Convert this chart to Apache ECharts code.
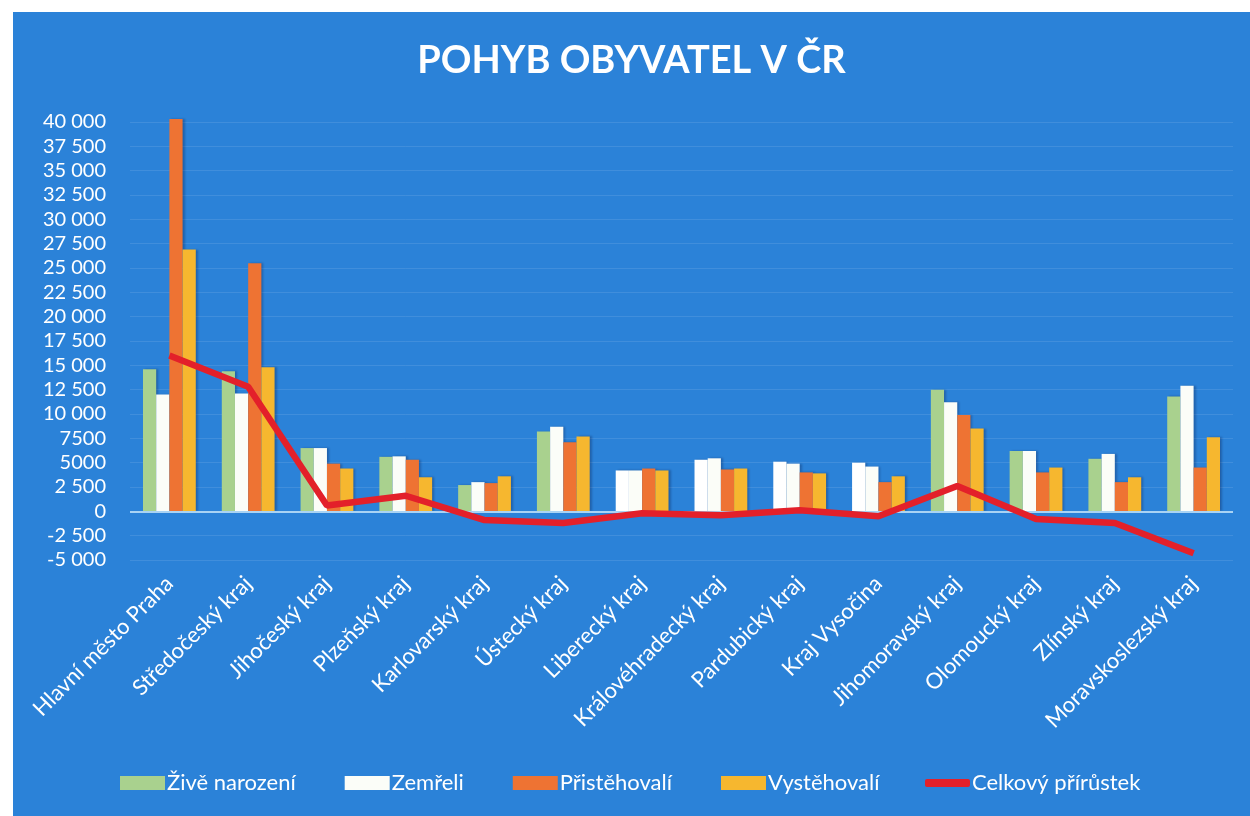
<!DOCTYPE html>
<html>
<head>
<meta charset="utf-8">
<script src="https://cdn.jsdelivr.net/npm/echarts@6/dist/echarts.min.js"></script>
<style>
  html, body { margin: 0; padding: 0; background: #fff; }
  #wrap { position: relative; width: 1250px; height: 816px; background: #fff; }
  #chart { position: absolute; left: 13px; top: 12px; width: 1237px; height: 804px; }
</style>
</head>
<body>
<div id="wrap"><div id="chart"></div></div>
<script>
let kraje = ['Hlavní město Praha', 'Středočeský kraj', 'Jihočeský kraj', 'Plzeňský kraj',
  'Karlovarský kraj', 'Ústecký kraj', 'Liberecký kraj', 'Královéhradecký kraj',
  'Pardubický kraj', 'Kraj Vysočina', 'Jihomoravský kraj', 'Olomoucký kraj',
  'Zlínský kraj', 'Moravskoslezský kraj']

let ziveNarozeni = [14600, 14400, 6500, 5600, 2700, 8200, 4200, 5300, 5100, 5000, 12500, 6200, 5400, 11800]
let zemreli = [12000, 12100, 6500, 5650, 3000, 8700, 4200, 5450, 4900, 4600, 11200, 6200, 5900, 12900]
let pristehovali = [40300, 25500, 4900, 5300, 2900, 7100, 4400, 4300, 4000, 3000, 9900, 4000, 3000, 4500]
let vystehovali = [26900, 14800, 4400, 3500, 3600, 7700, 4200, 4400, 3900, 3600, 8500, 4500, 3500, 7600]
let prirustek = [16000, 12800, 600, 1600, -900, -1200, -200, -400, 100, -500, 2600, -800, -1200, -4300]

let yTicks = [-5000, -2500, 0, 2500, 5000, 7500, 10000, 12500, 15000, 17500, 20000,
  22500, 25000, 27500, 30000, 32500, 35000, 37500, 40000]
let yTickLabels = ['-5 000', '-2 500', '0', '2 500', '5000', '7500', '10 000', '12 500', '15 000',
  '17 500', '20 000', '22 500', '25 000', '27 500', '30 000', '32 500', '35 000', '37 500', '40 000']

let font = 'Lato, "Open Sans", sans-serif'
let modra = '#2b82d8'

// zelene sloupce, ktere jsou na predloze vybledle do bila
let vybledle = [6, 7, 8, 9]

function bar (name, data, color) {
  return {
    name: name,
    type: 'bar',
    data: data,
    clip: false,
    barGap: '0%',
    barCategoryGap: '33%',
    itemStyle: {
      color: color,
      shadowColor: 'rgba(0, 0, 40, 0.25)',
      shadowOffsetX: 2,
      shadowBlur: 2
    }
  }
}

let legendText = {
  color: '#fff',
  fontFamily: font,
  fontSize: 22,
  padding: [0, 0, 0, -3]
}

let myChart = echarts.init(document.getElementById('chart'))
let zeleneData = ziveNarozeni.map(function (v, i) {
  if (vybledle.indexOf(i) >= 0) {
    return { value: v, itemStyle: { color: '#ffffff' } }
  }
  return v
})

myChart.setOption({
  backgroundColor: modra,
  animation: false,
  title: {
    text: 'POHYB OBYVATEL V ČR',
    left: 'center',
    top: 25,
    textStyle: {
      color: '#fff',
      fontFamily: font,
      fontWeight: 'bold',
      fontSize: 38
    }
  },
  legend: [
    {
      left: 102,
      top: 755,
      itemWidth: 45,
      itemHeight: 14,
      itemGap: 49,
      textStyle: legendText,
      data: [
        { name: 'Živě narození', icon: 'rect' },
        { name: 'Zemřeli', icon: 'rect' },
        { name: 'Přistěhovalí', icon: 'rect' },
        { name: 'Vystěhovalí', icon: 'rect' }
      ]
    },
    {
      left: 907,
      top: 755,
      itemWidth: 45,
      itemHeight: 8,
      textStyle: legendText,
      data: [{ name: 'Celkový přírůstek', icon: 'roundRect' }]
    }
  ],
  grid: {
    left: 117,
    right: 17,
    top: 110,
    bottom: 256
  },
  xAxis: {
    type: 'category',
    data: kraje,
    axisLine: { show: false },
    axisTick: { show: false },
    axisLabel: {
      rotate: 45,
      interval: 0,
      margin: 20,
      color: '#fff',
      fontFamily: font,
      fontSize: 22
    }
  },
  yAxis: {
    type: 'value',
    min: -5000,
    max: 40000,
    interval: 2500,
    axisLine: { show: false },
    axisTick: { show: false },
    axisLabel: {
      margin: 24,
      color: '#fff',
      fontFamily: font,
      fontSize: 20,
      formatter: function (v) {
        let i = yTicks.indexOf(v)
        return i >= 0 ? yTickLabels[i] : ''
      }
    },
    splitLine: {
      lineStyle: { color: 'rgba(255, 255, 255, 0.1)', width: 1 }
    }
  },
  series: [
    bar('Živě narození', zeleneData, '#a9d18e'),
    bar('Zemřeli', zemreli, '#fbfdf8'),
    bar('Přistěhovalí', pristehovali, '#ee7333'),
    bar('Vystěhovalí', vystehovali, '#f6b72f'),
    {
      name: 'Celkový přírůstek',
      type: 'line',
      data: prirustek,
      symbol: 'none',
      z: 5,
      lineStyle: { color: '#e3202a', width: 6.5 },
      itemStyle: { color: '#e3202a' },
      markLine: {
        silent: true,
        symbol: 'none',
        label: { show: false },
        lineStyle: { color: '#a9d3f4', width: 2, type: 'solid' },
        data: [{ yAxis: 0 }]
      }
    }
  ]
})
</script>
</body>
</html>
